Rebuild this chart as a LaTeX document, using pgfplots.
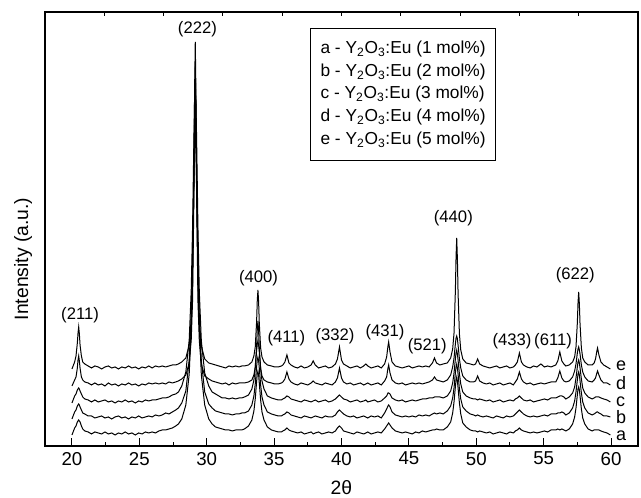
\documentclass[border=0pt]{standalone}
\usepackage{fontspec}
\setmainfont{Liberation Sans}
\usepackage{pgfplots}
\usepackage{pgfplotstable}
\pgfplotsset{compat=1.18}

\pgfplotstableread{
x a b c d e
20.0 33 49 65 82 99
20.2 40 56 72 88 106
20.3 42 58 74 91 112
20.4 46 62 78 100 125
20.45 47 63 79 108 135
20.5 48 64 80 112 141
20.55 47 63 79 107 134
20.6 46 61 77 100 123
20.7 42 58 74 91 112
20.8 39 55 71 88 106
20.95 37 54 69 86 104
21.2 36 52 68 85 102
21.45 34 52 66 83 100
21.7 36 50 68 85 102
21.95 35 51 66 83 101
22.2 34 52 67 84 99
22.45 36 50 68 82 101
22.7 34 51 66 85 102
22.95 35 49 67 83 100
23.2 33 51 65 84 101
23.45 35 52 67 82 99
23.7 34 50 66 84 101
23.95 36 51 68 83 100
24.2 34 49 66 85 102
24.45 35 51 67 83 100
24.7 33 50 65 84 101
24.95 35 52 67 82 99
25.2 34 50 66 84 101
25.45 36 51 68 83 100
25.7 35 52 67 85 102
25.95 36 51 68 84 100
26.2 35 53 68 85 102
26.45 37 52 69 84 101
26.7 38 53 70 85 102
26.95 38 55 70 84 101
27.2 39 54 71 86 102
27.45 40 56 73 85 103
27.7 42 58 74 86 103
27.9 44 60 76 87 104
28.15 49 65 82 89 106
28.45 63 77 96 93 110
28.7 94 108 128 105 123
28.85 142 154 178 128 146
28.95 202 213 241 168 187
29.05 288 296 331 272 293
29.1 325 332 369 355 378
29.15 340 346 385 402 426
29.2 323 330 367 352 375
29.25 286 294 329 270 290
29.35 200 211 239 166 185
29.45 141 152 176 127 145
29.6 93 107 127 104 122
29.85 63 76 95 92 109
30.15 49 64 82 89 105
30.4 44 60 76 87 104
30.65 41 57 74 86 103
30.9 40 56 72 85 102
31.15 39 55 70 84 101
31.4 38 54 70 85 100
31.65 38 54 69 83 102
31.9 37 53 70 85 101
32.15 38 54 69 84 102
32.4 38 54 70 85 101
32.6 38 55 70 85 102
32.8 39 55 71 85 102
33.1 42 57 73 86 103
33.35 48 63 79 88 106
33.5 57 72 88 93 112
33.6 69 84 100 101 121
33.7 86 101 117 121 146
33.75 94 108 124 138 167
33.8 97 111 127 147 178
33.85 93 107 123 137 166
33.9 85 100 116 120 145
34.0 68 83 99 100 120
34.1 56 71 87 92 111
34.25 48 63 79 88 106
34.5 41 56 72 86 103
34.8 38 54 70 85 102
35.05 37 53 69 84 101
35.3 36 52 68 84 101
35.55 36 52 68 85 102
35.65 37 53 69 86 103
35.8 38 54 70 89 106
35.95 40 56 72 96 113
36.1 38 55 71 89 105
36.25 37 53 69 86 103
36.5 36 52 68 84 101
36.75 35 51 67 83 100
37.0 36 50 66 85 102
37.25 34 52 68 84 100
37.5 35 51 67 83 101
37.75 36 50 66 85 103
37.9 34 51 67 87 107
38.05 35 52 68 85 103
38.3 36 51 66 84 100
38.55 34 50 67 83 101
38.8 35 52 68 85 102
39.05 36 51 66 84 100
39.3 35 51 67 83 101
39.55 37 53 69 86 104
39.7 40 56 71 90 109
39.85 42 58 73 100 121
40.0 40 56 71 90 108
40.15 37 54 69 86 104
40.4 36 52 68 84 102
40.65 35 51 66 85 100
40.9 34 52 67 83 101
41.15 36 50 68 84 102
41.4 35 51 66 85 100
41.65 34 52 67 83 102
41.8 35 51 68 84 104
41.95 36 50 66 85 102
42.2 34 52 67 83 100
42.45 35 51 68 84 101
42.7 36 52 66 85 102
42.95 35 50 67 83 100
43.2 39 55 70 87 104
43.35 42 59 72 91 111
43.45 44 62 75 100 122
43.5 45 63 75 103 126
43.6 43 61 74 95 116
43.75 40 56 70 88 106
44.0 37 53 68 85 102
44.25 36 52 67 84 101
44.5 35 51 68 85 100
44.75 36 52 66 83 101
45.0 35 51 67 84 102
45.25 34 52 68 85 100
45.5 36 51 67 84 101
45.75 35 53 68 85 102
46.0 37 52 69 84 101
46.25 36 53 69 85 102
46.5 37 52 70 86 101
46.75 38 54 70 88 105
46.9 38 55 71 91 110
47.05 39 54 71 88 105
47.3 38 55 71 87 103
47.55 38 54 70 86 104
47.85 41 57 72 88 105
48.1 46 62 77 93 110
48.25 55 70 85 101 119
48.35 66 80 95 110 135
48.45 81 95 109 124 177
48.5 88 101 115 130 211
48.55 91 104 118 132 230
48.6 87 100 114 129 209
48.65 80 94 108 123 175
48.75 65 79 94 109 134
48.85 54 69 84 100 118
49.0 45 61 76 92 109
49.25 41 57 72 88 105
49.55 38 54 70 86 104
49.8 37 53 69 86 103
49.95 37 52 69 87 104
50.1 36 53 68 92 109
50.25 37 52 69 87 104
50.5 36 51 68 85 102
50.75 35 52 67 84 101
51.0 36 51 68 85 100
51.25 34 50 66 83 101
51.5 35 52 67 84 102
51.75 36 51 68 85 100
52.0 35 50 66 83 101
52.25 34 52 67 84 102
52.5 36 51 68 85 100
52.75 35 52 67 83 101
52.9 37 54 69 86 103
53.05 38 56 70 89 106
53.2 40 58 72 96 115
53.35 38 56 70 89 106
53.5 37 54 68 86 103
53.75 36 52 67 84 101
54.0 35 51 68 85 100
54.25 36 52 66 83 102
54.5 35 51 67 84 101
54.8 36 52 68 85 104
55.05 37 53 69 84 101
55.3 36 52 68 85 102
55.55 38 54 70 86 101
55.9 38 54 70 86 103
56.05 39 55 71 90 107
56.2 38 55 72 97 116
56.35 39 56 72 90 107
56.5 38 55 71 87 104
56.65 37 53 69 86 102
56.9 39 55 71 87 103
57.15 44 60 75 91 106
57.3 51 67 81 97 111
57.4 60 76 90 104 121
57.5 73 88 101 115 145
57.55 79 94 106 119 165
57.6 81 96 108 121 176
57.65 78 93 105 118 164
57.7 72 87 100 114 144
57.8 59 75 89 103 120
57.9 50 66 80 96 110
58.05 44 60 75 91 106
58.3 39 55 71 87 103
58.6 37 53 69 86 103
58.75 38 54 70 88 105
58.85 38 55 71 90 109
58.95 38 56 71 95 117
59.0 38 56 71 97 120
59.1 38 55 71 93 113
59.25 37 54 70 88 106
59.45 36 52 69 85 103
59.7 35 52 68 85 101
59.95 33 51 66 83 99
}\xrd

\begin{document}
\begin{tikzpicture}
\begin{axis}[
  at={(0,0)}, anchor=south west,
  scale only axis, width=444.75pt, height=325.5pt,
  xmin=18, xmax=62, ymin=22, ymax=456,
  xtick={20,25,...,60}, minor x tick num=1, xtick pos=left,
  ytick=\empty,
  minor ytick={56,100.3,144.6,188.9,233.2,277.5,321.8,366.1,410.4},
  ytick pos=both,
  tick align=inside,
  major tick length=6pt, minor tick length=3pt,
  tick style={line width=0.8pt, black},
  axis line style={line width=1pt},
  /pgf/number format/assume math mode=true,
  tick label style={font=\fontsize{14}{16}\selectfont},
  xticklabel style={yshift=-1pt},
  xlabel={2θ}, ylabel={Intensity (a.u.)},
  label style={font=\fontsize{14.5}{17}\selectfont, inner sep=1pt},
  xlabel style={at={(rel axis cs:0.5,0)}, anchor=north, yshift=-25pt},
  ylabel style={at={(rel axis cs:-0.019,0.431)}, anchor=south},
  clip=false, no markers,
]
\addplot[black, line width=0.75pt] table[x=x, y=a] {\xrd};
\addplot[black, line width=0.75pt] table[x=x, y=b] {\xrd};
\addplot[black, line width=0.75pt] table[x=x, y=c] {\xrd};
\addplot[black, line width=0.75pt] table[x=x, y=d] {\xrd};
\addplot[black, line width=0.75pt] table[x=x, y=e] {\xrd};

\begin{scope}[every node/.style={font=\fontsize{12.5}{14}\selectfont, inner sep=0pt}]
\node at (axis cs:20.6,153) {(211)};
\node at (axis cs:29.31,439) {(222)};
\node at (axis cs:33.84,190) {(400)};
\node at (axis cs:35.91,130) {(411)};
\node at (axis cs:39.52,132) {(332)};
\node at (axis cs:43.23,136) {(431)};
\node at (axis cs:46.37,122) {(521)};
\node at (axis cs:48.30,250) {(440)};
\node at (axis cs:52.65,127) {(433)};
\node at (axis cs:55.70,127) {(611)};
\node at (axis cs:57.35,193) {(622)};
\end{scope}

\begin{scope}[every node/.style={font=\fontsize{13.5}{15}\selectfont, inner sep=0pt, anchor=base west}]
\node at (axis cs:60.35,97) {e};
\node at (axis cs:60.35,78) {d};
\node at (axis cs:60.35,61) {c};
\node at (axis cs:60.35,44) {b};
\node at (axis cs:60.35,27) {a};
\end{scope}

\node[draw, line width=0.7pt, anchor=north west, align=left,
      inner xsep=7.5pt, inner ysep=6pt, minimum width=138pt, minimum height=99pt,
      font=\fontsize{13}{17}\selectfont]
  at (rel axis cs:0.447,0.963)
  {a - Y\textsubscript{2}O\textsubscript{3}:Eu (1 mol\%)\\
   b - Y\textsubscript{2}O\textsubscript{3}:Eu (2 mol\%)\\
   c - Y\textsubscript{2}O\textsubscript{3}:Eu (3 mol\%)\\
   d - Y\textsubscript{2}O\textsubscript{3}:Eu (4 mol\%)\\
   e - Y\textsubscript{2}O\textsubscript{3}:Eu (5 mol\%)};

\path (rel axis cs:-0.0759,-0.1198) rectangle (rel axis cs:1.0051,1.0276);
\end{axis}
\begin{axis}[
  at={(0,0)}, anchor=south west,
  scale only axis, width=444.75pt, height=325.5pt,
  xmin=0, xmax=10, ymin=0, ymax=1,
  xtick={1,...,9}, xticklabels={}, xtick pos=right,
  ytick=\empty,
  tick align=inside, major tick length=3pt,
  tick style={line width=0.8pt, black},
  axis line style={draw=none},
]
\end{axis}
\end{tikzpicture}
\end{document}
